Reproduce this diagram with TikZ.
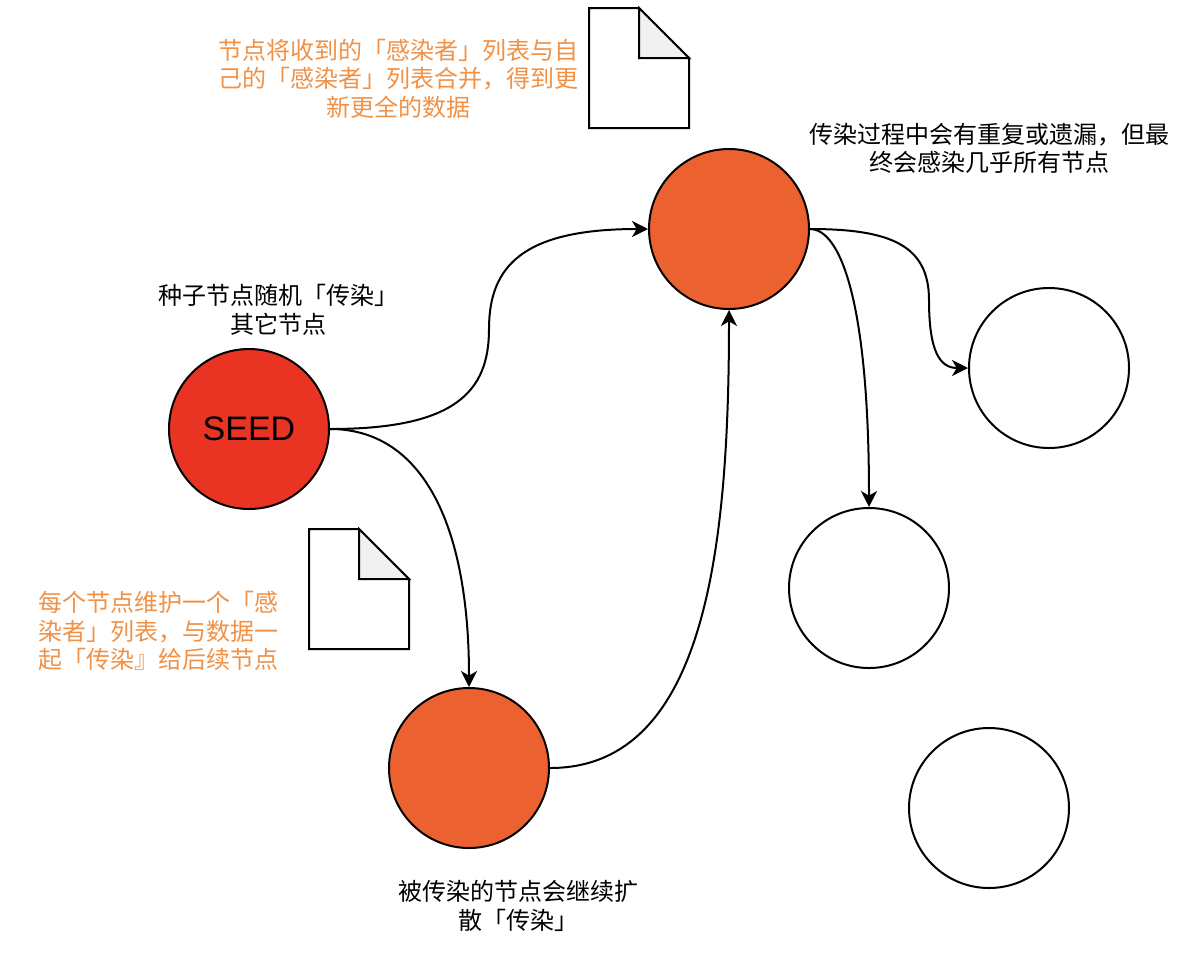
\documentclass[tikz,border=0pt]{standalone}
\usepackage{fontspec}
\setmainfont{Noto Sans CJK SC}
\newfontfamily\seedfont{Liberation Sans}
\usetikzlibrary{arrows.meta}

\definecolor{seedred}{RGB}{233,52,36}
\definecolor{hotorange}{RGB}{235,97,48}
\definecolor{noteorange}{RGB}{240,145,70}
\definecolor{foldgray}{RGB}{241,241,241}

\tikzset{
	peer/.style={circle, draw=black, line width=1.5pt, minimum size=120pt, inner sep=0pt},
	flow/.style={line width=1.5pt, -{Stealth[length=12pt,width=12pt,inset=3.5pt]}},
	remark/.style={align=center, inner sep=0pt, font=\fontsize{18}{21.4}\selectfont},
	hint/.style={remark, text=noteorange},
	docnote/.pic={
		\draw[line width=1.5pt, fill=white] (0,0) -- (50,0) -- (100,-50) -- (100,-120) -- (0,-120) -- cycle;
		\draw[line width=1.5pt, fill=foldgray, line join=miter] (50,0) -- (50,-50) -- (100,-50) -- cycle;
	}}

\begin{document}
\begin{tikzpicture}[x=0.75pt,y=0.75pt,yscale=-1,xscale=1]
	\useasboundingbox (0,0) rectangle (1198,954);

	%Shape: Circle
	\node[peer, fill=seedred, font=\seedfont\fontsize{25.5}{30}\selectfont] (seed) at (249,429) {SEED};
	\node[peer, fill=hotorange] (hub) at (729,229) {};
	\node[peer, fill=hotorange] (relay) at (469,768) {};
	\node[peer, fill=white] (peerA) at (1049,368) {};
	\node[peer, fill=white] (peerB) at (869,588) {};
	\node[peer, fill=white] (peerC) at (989,808) {};

	%Shape: Note
	\pic (docTop) at (589,8) {docnote};
	\pic (docLeft) at (309,529) {docnote};

	%Curve Lines
	\coordinate (bendA) at (489,329);
	\coordinate (bendB) at (929,300);
	\draw[flow] (seed.east) .. controls (455,429) and (489,392) .. (bendA) .. controls (489,266) and (523,229) .. (hub.west);
	\draw[flow] (seed.east) .. controls (420,429) and (469,520) .. (relay.north);
	\draw[flow] (relay.east) .. controls (705,768) and (729,550) .. (hub.south);
	\draw[flow] (hub.east) .. controls (890,229) and (929,245) .. (bendB) .. controls (929,352) and (940,368) .. (peerA.west);
	\draw[flow] (hub.east) .. controls (840,229) and (869,300) .. (peerB.north);

	% Text Node
	\node[hint] (mergeText) at (398.5,78.5) {节点将收到的「感染者」列表与自\\己的「感染者」列表合并，得到更\\新更全的数据};
	% Text Node
	\node[remark] (endText) at (989,148.5) {传染过程中会有重复或遗漏，但最\\终会感染几乎所有节点};
	% Text Node
	\node[remark] (seedText) at (278,310) {种子节点随机「传染」\\其它节点};
	% Text Node
	\node[hint] (listText) at (158,631) {每个节点维护一个「感\\染者」列表，与数据一\\起「传染』给后续节点};
	% Text Node
	\node[remark] (spreadText) at (518,906) {被传染的节点会继续扩\\散「传染」};

\end{tikzpicture}
\end{document}
